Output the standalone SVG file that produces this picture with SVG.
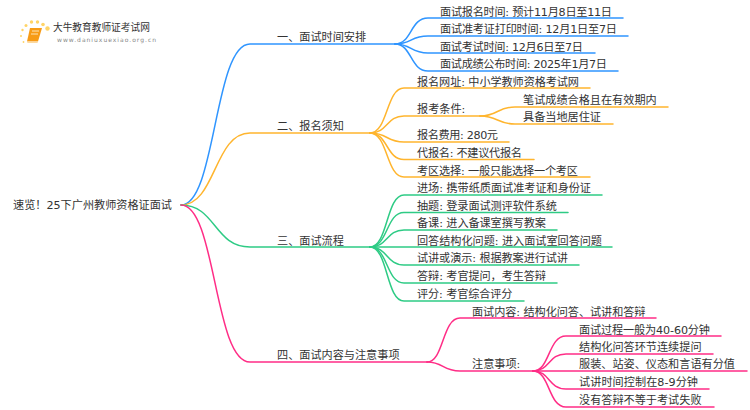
<svg xmlns="http://www.w3.org/2000/svg" width="750" height="410" viewBox="0 0 750 410">
<style>
text{font-family:"DejaVu Sans","Noto Sans CJK SC",sans-serif;font-size:11.15px;fill:#333}
#connectors path{fill:none;stroke-width:1.5;stroke-linecap:round}
.b path{stroke:#2f95ff}.o path{stroke:#ffb52e}.g path{stroke:#2ecb85}.p path{stroke:#ff2d86}
</style>
<rect width="750" height="410" fill="#fff"/>
<g id="connectors">
<g class="b">
<path d="M181 205C216 205 214 44 250 44H395"/>
<path d="M395 44C412 44 410 18 428 18H623"/>
<path d="M395 44C412 44 410 36 428 36H628"/>
<path d="M395 44C412 44 410 53 428 53H595"/>
<path d="M395 44C412 44 410 71 428 71H618"/>
</g>
<g class="o">
<path d="M181 205C216 205 214 133 250 133H370"/>
<path d="M370 133C388 133 386 88 404 88H590"/>
<path d="M370 133C388 133 386 116 404 116H480"/>
<path d="M480 116C498 116 497 107 515 107H668"/>
<path d="M480 116C498 116 497 124 515 124H613"/>
<path d="M370 133C388 133 386 142 404 142H509"/>
<path d="M370 133C388 133 386 159.500 404 159.500H534"/>
<path d="M370 133C388 133 386 177 404 177H590"/>
</g>
<g class="g">
<path d="M181 205C216 205 214 247 250 247H370"/>
<path d="M370 247C388 247 386 195 404 195H602"/>
<path d="M370 247C388 247 386 212.500 404 212.500H568"/>
<path d="M370 247C388 247 386 230 404 230H557"/>
<path d="M370 247H612"/>
<path d="M370 247C388 247 386 265 404 265H579"/>
<path d="M370 247C388 247 386 283 404 283H557"/>
<path d="M370 247C388 247 386 301 404 301H524"/>
</g>
<g class="p">
<path d="M181 205C216 205 214 362 250 362H427"/>
<path d="M427 362C444 362 442 318 460 318H656"/>
<path d="M427 362C444 362 442 371 460 371H533"/>
<path d="M533 371C550 371 548 336 566 336H721"/>
<path d="M533 371C550 371 548 354 566 354H713"/>
<path d="M533 371H747"/>
<path d="M533 371C550 371 548 389 566 389H709"/>
<path d="M533 371C550 371 548 407 566 407H714"/>
</g>
</g>
<g id="logo">
<g fill="#ffd467">
<circle cx="47.500" cy="28.500" r="2.200"/><circle cx="43" cy="24.500" r="1.800"/><circle cx="37.500" cy="22" r="1.700"/><circle cx="31.500" cy="22" r="1.700"/><circle cx="26" cy="25.500" r="1.500"/><circle cx="22.500" cy="30" r="1.200"/><circle cx="21" cy="36" r="1"/><circle cx="23.500" cy="42" r="0.900"/>
</g>
<path d="M30 28H42L38 41.500H27Z" fill="#f79b16"/>
<path d="M27 41.500H38L37.500 43H27.500Z" fill="#fcd9a0"/>
<path d="M32 31H39M31 34H38" stroke="#fde3b5" stroke-width="1" fill="none"/>
<text x="53" y="31" style="font-size:9.700px;font-family:'Noto Sans CJK SC',sans-serif">大牛教育教师证考试网</text>
<text x="57" y="41.500" style="font-size:6px;letter-spacing:1px;fill:#888">www.daniuxuexiao.org.cn</text>
</g>
<g id="root"><text x="13" y="209">速览！25下广州教师资格证面试</text></g>
<g id="n1"><text x="277" y="41">一、面试时间安排</text></g>
<g id="n1-1"><text x="440" y="15.500" textLength="172">面试报名时间: 预计11月8日至11日</text></g>
<g id="n1-2"><text x="440" y="33" textLength="177">面试准考证打印时间: 12月1日至7日</text></g>
<g id="n1-3"><text x="440" y="50.500" textLength="143">面试考试时间: 12月6日至7日</text></g>
<g id="n1-4"><text x="440" y="68" textLength="167">面试成绩公布时间: 2025年1月7日</text></g>
<g id="n2"><text x="277" y="130">二、报名须知</text></g>
<g id="n2-1"><text x="417" y="85.500" textLength="162">报名网址: 中小学教师资格考试网</text></g>
<g id="n2-2"><text x="417" y="112.500">报考条件:</text></g>
<g id="n2-2-1"><text x="523" y="103.500">笔试成绩合格且在有效期内</text></g>
<g id="n2-2-2"><text x="523" y="121">具备当地居住证</text></g>
<g id="n2-3"><text x="417" y="139" textLength="81">报名费用: 280元</text></g>
<g id="n2-4"><text x="417" y="156.500" textLength="105">代报名: 不建议代报名</text></g>
<g id="n2-5"><text x="417" y="174.500" textLength="161">考区选择: 一般只能选择一个考区</text></g>
<g id="n3"><text x="277" y="244.500">三、面试流程</text></g>
<g id="n3-1"><text x="417" y="192" textLength="174">进场: 携带纸质面试准考证和身份证</text></g>
<g id="n3-2"><text x="417" y="209.500" textLength="140">抽题: 登录面试测评软件系统</text></g>
<g id="n3-3"><text x="417" y="227" textLength="129">备课: 进入备课室撰写教案</text></g>
<g id="n3-4"><text x="417" y="244.500" textLength="185">回答结构化问题: 进入面试室回答问题</text></g>
<g id="n3-5"><text x="417" y="262" textLength="151">试讲或演示: 根据教案进行试讲</text></g>
<g id="n3-6"><text x="417" y="280" textLength="129">答辩: 考官提问，考生答辩</text></g>
<g id="n3-7"><text x="417" y="297.500" textLength="95.500">评分: 考官综合评分</text></g>
<g id="n4"><text x="277" y="359">四、面试内容与注意事项</text></g>
<g id="n4-1"><text x="472" y="315.500" textLength="173.500">面试内容: 结构化问答、试讲和答辩</text></g>
<g id="n4-2"><text x="472" y="368">注意事项:</text></g>
<g id="n4-2-1"><text x="579" y="333.500" textLength="131">面试过程一般为40-60分钟</text></g>
<g id="n4-2-2"><text x="579" y="351">结构化问答环节连续提问</text></g>
<g id="n4-2-3"><text x="579" y="368">服装、站姿、仪态和言语有分值</text></g>
<g id="n4-2-4"><text x="579" y="386" textLength="119">试讲时间控制在8-9分钟</text></g>
<g id="n4-2-5"><text x="579" y="404">没有答辩不等于考试失败</text></g>
</svg>
